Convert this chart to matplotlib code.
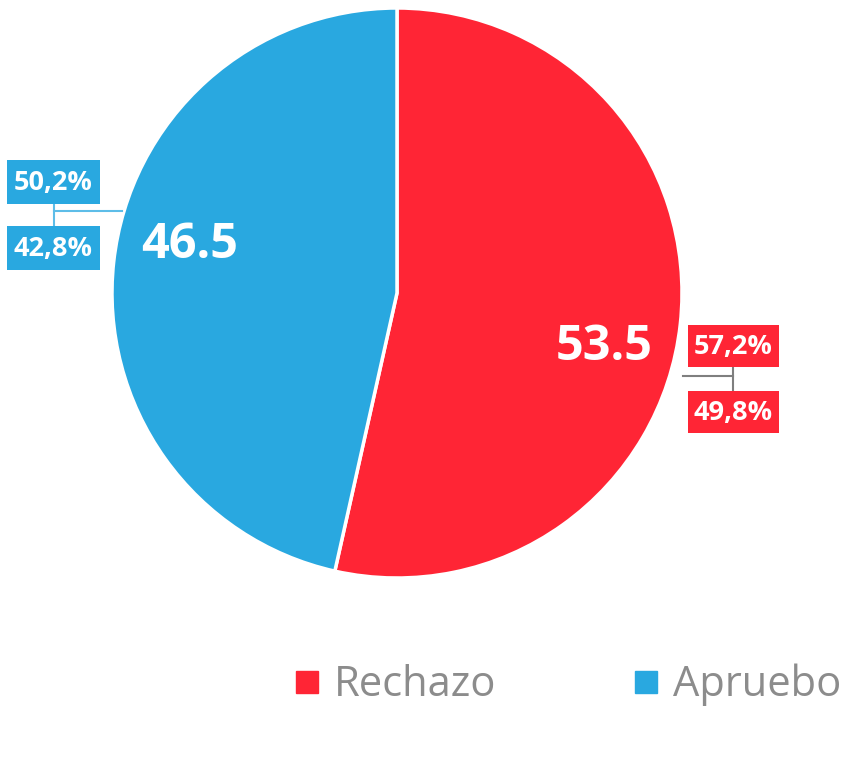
import matplotlib
matplotlib.use("Agg")
import matplotlib.pyplot as plt
from matplotlib.patches import Rectangle
from matplotlib.lines import Line2D

categories = ["Rechazo", "Apruebo"]
values = [53.5, 46.5]
colors = ["#FF2535", "#29A8E0"]
upper_labels = ["57,2%", "50,2%"]
lower_labels = ["49,8%", "42,8%"]

W, H = 843, 781
fig = plt.figure(figsize=(W / 100, H / 100), dpi=100)
ax = fig.add_axes([0, 0, 1, 1])
ax.set_xlim(0, W)
ax.set_ylim(0, H)
ax.set_aspect("equal")
ax.axis("off")

def Y(y):
    return H - y

cx, cy, r = 397, Y(293), 285
wedges, _ = ax.pie(values, colors=colors, startangle=90, counterclock=False,
                   center=(cx, cy), radius=r, frame=True,
                   wedgeprops=dict(edgecolor="white", linewidth=2.5))
ax.set_xlim(0, W)
ax.set_ylim(0, H)
ax.axis("off")

font = "Open Sans"
# main value labels
ax.text(604, Y(347), f"{values[0]:.1f}", color="white", fontsize=35, fontweight="bold",
        ha="center", va="center", family=font)
ax.text(190, Y(245), f"{values[1]:.1f}", color="white", fontsize=35, fontweight="bold",
        ha="center", va="center", family=font)

def boxed(x0, ytop, w, h, txt, col):
    ax.add_patch(Rectangle((x0, Y(ytop + h)), w, h, facecolor=col, edgecolor="none", zorder=3))
    ax.text(x0 + w / 2, Y(ytop + h / 2) - 1, txt, color="white", fontsize=19.5, fontweight="bold",
            ha="center", va="center", family=font, zorder=4)

# Rechazo (right)
boxed(688, 325, 91, 42, upper_labels[0], colors[0])
boxed(688, 391, 91, 42, lower_labels[0], colors[0])
ax.plot([683, 733], [Y(376), Y(376)], color="#7F7F7F", lw=1.5, zorder=2)
ax.plot([733, 733], [Y(367), Y(391)], color="#7F7F7F", lw=1.5, zorder=2)

# Apruebo (left)
boxed(7, 160, 93, 44, upper_labels[1], colors[1])
boxed(7, 226, 93, 44, lower_labels[1], colors[1])
ax.plot([54, 122], [Y(211), Y(211)], color="#5DBDE8", lw=1.5, zorder=2)
ax.plot([54, 54], [Y(204), Y(226)], color="#5DBDE8", lw=1.5, zorder=2)

# legend
handles = [Line2D([], [], marker="s", linestyle="none", markersize=16,
                  markerfacecolor=c, markeredgecolor=c) for c in colors]
leg = ax.legend(handles, categories, loc="center left", bbox_to_anchor=(294 / W, 1 - 685 / H),
                ncol=2, frameon=False, prop=dict(family=font, size=30),
                labelcolor="#8C8C8C", handlelength=0.6, handletextpad=0.35,
                columnspacing=3.3, borderaxespad=0, borderpad=0)

fig.savefig("out.png", dpi=100)
